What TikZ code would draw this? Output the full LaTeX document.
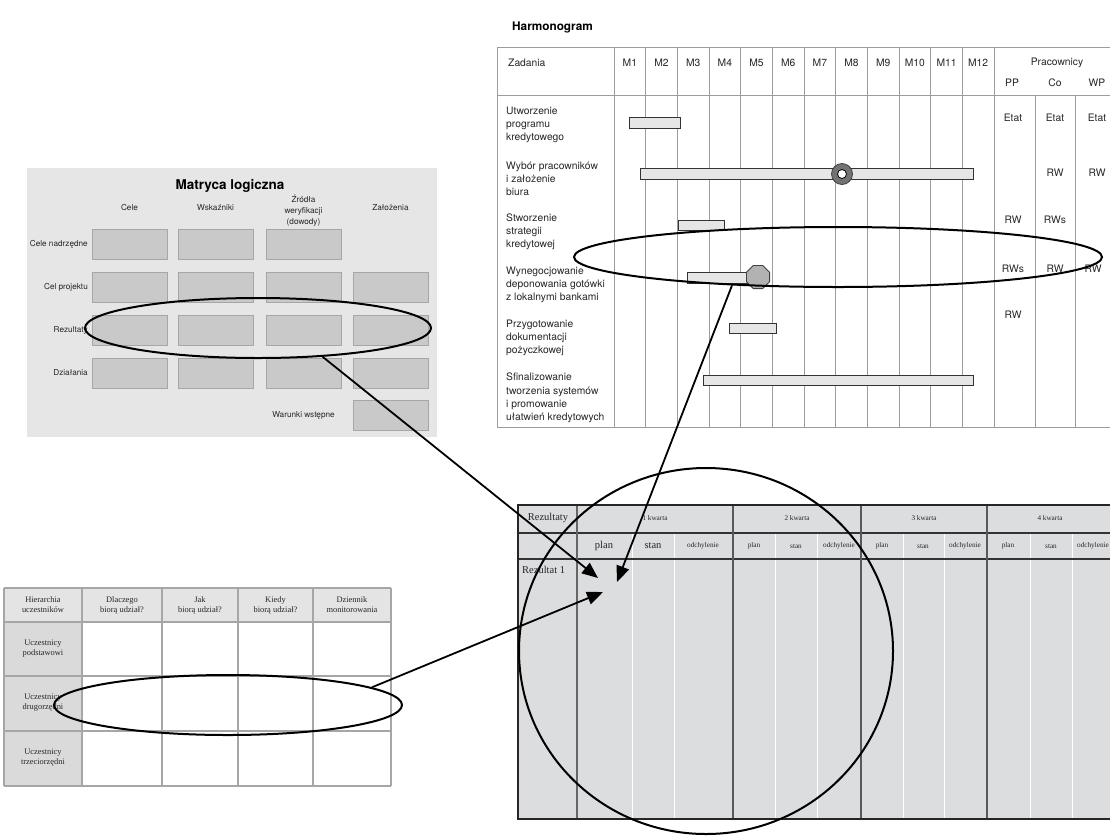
\documentclass[tikz,border=0pt]{standalone}
\usepackage{fontspec}
\setmainfont{Liberation Serif}
\setsansfont{TeX Gyre Heros}
\usetikzlibrary{shapes.geometric,arrows.meta}

\definecolor{panelgray}{HTML}{E6E6E6}
\definecolor{boxgray}{HTML}{C9C9C9}
\definecolor{boxedge}{HTML}{A6A6A6}
\definecolor{gridgray}{HTML}{9C9C9C}
\definecolor{bargray}{HTML}{E6E6E6}
\definecolor{tabfill}{HTML}{DCDDDF}
\definecolor{headfill}{HTML}{E4E4E4}
\definecolor{colfill}{HTML}{DADADA}

\begin{document}
\begin{tikzpicture}[x=1pt,y=-1pt,
  mtitle/.style={font=\sffamily\bfseries\fontsize{13.5}{15}\selectfont, inner sep=0},
  mtxt/.style={font=\sffamily\fontsize{8.2}{11}\selectfont, inner sep=0, text=black!85},
  mbox/.style={draw=boxedge, fill=boxgray, line width=0.8, minimum width=75, minimum height=30, inner sep=0},
  htitle/.style={font=\sffamily\bfseries\fontsize{11.8}{14}\selectfont, inner sep=0},
  htxt/.style={font=\sffamily\fontsize{10.3}{13.2}\selectfont, inner sep=0, text=black!85},
  gline/.style={draw=gridgray, line width=0.8},
  gbar/.style={draw=black!80, fill=bargray, line width=0.8},
  ttxt/.style={font=\fontsize{8.4}{10}\selectfont, inner sep=0, align=center, text=black!85},
  ugrid/.style={draw=black!35, line width=2.2},
  rtxt/.style={font=\fontsize{10.5}{12}\selectfont, inner sep=0, text=black!85},
  rsmall/.style={font=\fontsize{7.2}{9}\selectfont, inner sep=0, text=black!85},
  ring/.style={draw=black, line width=2, ellipse, inner sep=0},
  arr/.style={draw=black, line width=1.8, -{Triangle[length=16pt,width=13pt]}}
]
\useasboundingbox (0,0) rectangle (1110,836);

% ---------------- Matryca logiczna ----------------
\fill[panelgray] (27,168) rectangle (437,437);
\node[mtitle] (mtitle) at (230,186) {Matryca logiczna};
\node[mtxt] (mh1) at (129.5,208) {Cele};
\node[mtxt] (mh2) at (215.5,208) {Wskaźniki};
\node[mtxt, align=center] (mh3) at (303.5,211) {Źródła\\weryfikacji\\(dowody)};
\node[mtxt] (mh4) at (390.5,208) {Założenia};

\node[mtxt, anchor=east] (mr1) at (88,244) {Cele nadrzędne};
\node[mtxt, anchor=east] (mr2) at (88,287) {Cel projektu};
\node[mtxt, anchor=east] (mr3) at (88,330) {Rezultaty};
\node[mtxt, anchor=east] (mr4) at (88,373) {Działania};
\node[mtxt] (mr5) at (303.5,415) {Warunki wstępne};

\foreach \c/\x in {1/129.5,2/215.5,3/303.5}
  \node[mbox] (b1\c) at (\x,244) {};
\foreach \r/\y in {2/287,3/330,4/373}
  \foreach \c/\x in {1/129.5,2/215.5,3/303.5,4/390.5}
    \node[mbox] (b\r\c) at (\x,\y) {};
\node[mbox] (b54) at (390.5,415) {};

% ---------------- Harmonogram ----------------
\node[htitle, anchor=west] (htitle) at (512,27) {Harmonogram};

\draw[gline] (497,47) -- (1112,47);
\draw[gline] (497,95) -- (1112,95);
\draw[gline] (497,427) -- (1112,427);
\draw[gline] (497,47) -- (497,427);
\draw[gline] (614,47) -- (614,427);
\foreach \i in {1,...,12}
  \draw[gline] ({614+\i*31.667},47) -- ({614+\i*31.667},427);
\draw[gline] (1035,95) -- (1035,427);
\draw[gline] (1075,95) -- (1075,427);

\node[htxt, anchor=west] (zad) at (508,63) {Zadania};
\foreach \i in {1,...,12}
  \node[htxt] (m\i) at ({614+(\i-0.5)*31.667},63) {M\i};
\node[htxt] (prac) at (1057,63) {Pracownicy};
\node[htxt] (pp) at (1012,83) {PP};
\node[htxt] (co) at (1055,83) {Co};
\node[htxt] (wp) at (1097,83) {WP};

\node[htxt, anchor=west, align=left] (z1) at (506,125) {Utworzenie\\programu\\kredytowego};
\node[htxt, anchor=west, align=left] (z2) at (506,179) {Wybór pracowników\\i założenie\\biura};
\node[htxt, anchor=west, align=left] (z3) at (506,232) {Stworzenie\\strategii\\kredytowej};
\node[htxt, anchor=west, align=left] (z4) at (506,285) {Wynegocjowanie\\deponowania gotówki\\z lokalnymi bankami};
\node[htxt, anchor=west, align=left] (z5) at (506,338) {Przygotowanie\\dokumentacji\\pożyczkowej};
\node[htxt, anchor=west, align=left] (z6) at (506,398) {Sfinalizowanie\\tworzenia systemów\\i promowanie\\ułatwień kredytowych};

% task bars
\draw[gbar] (629,117) rectangle (680,128);
\draw[gbar] (640,168) rectangle (973,179);
\draw[gbar] (678,220) rectangle (724,230);
\draw[gbar] (687,272) rectangle (747,283);
\draw[gbar] (729,323) rectangle (776,333);
\draw[gbar] (703,375) rectangle (973,385);

% milestones
\node[circle, draw=black!75, fill=black!55, line width=0.8, minimum size=21pt, inner sep=0] (ms1) at (842,174) {};
\node[circle, draw=black, fill=white, line width=0.8, minimum size=9pt, inner sep=0] (ms1in) at (842,174) {};
\node[regular polygon, regular polygon sides=8, draw=black!75, fill=black!30, line width=0.9, minimum size=25pt, inner sep=0] (ms2) at (758,277) {};

% staff
\node[htxt] (e1) at (1013,118) {Etat};
\node[htxt] (e2) at (1055,118) {Etat};
\node[htxt] (e3) at (1097,118) {Etat};
\node[htxt] (r21) at (1055,173) {RW};
\node[htxt] (r22) at (1097,173) {RW};
\node[htxt] (r31) at (1013,220) {RW};
\node[htxt] (r32) at (1055,220) {RWs};
\node[htxt] (r41) at (1013,269) {RWs};
\node[htxt] (r42) at (1055,269) {RW};
\node[htxt] (r43) at (1093,269) {RW};
\node[htxt] (r51) at (1013,315) {RW};

% ---------------- Hierarchia uczestnikow ----------------
\fill[headfill] (4,588) rectangle (391,622);
\fill[colfill] (4,622) rectangle (82,786);
\fill[white] (82,622) rectangle (391,786);
\foreach \x in {4,82,162,238,313,391}
  \draw[ugrid] (\x,588) -- (\x,786);
\foreach \y in {588,622,676,731,786}
  \draw[ugrid] (4,\y) -- (391,\y);

\node[ttxt] (u01) at (43,605) {Hierarchia\\uczestników};
\node[ttxt] (u02) at (122,605) {Dlaczego\\biorą udział?};
\node[ttxt] (u03) at (200,605) {Jak\\biorą udział?};
\node[ttxt] (u04) at (275.5,605) {Kiedy\\biorą udział?};
\node[ttxt] (u05) at (352,605) {Dziennik\\monitorowania};
\node[ttxt] (u1) at (43,649) {Uczestnicy\\podstawowi};
\node[ttxt] (u2) at (43,703) {Uczestnicy\\drugorzędni};
\node[ttxt] (u3) at (43,758) {Uczestnicy\\trzeciorzędni};

% ---------------- Rezultaty ----------------
\fill[tabfill] (518,505) rectangle (1116,819);
\foreach \x in {632,674,775,817,903,944,1030,1072}
  \draw[white, line width=1] (\x,533) -- (\x,819);
\draw[black!80, line width=1.2] (518,533) -- (1116,533);
\draw[black!80, line width=1.2] (518,559) -- (1116,559);
\draw[black!60, line width=1.2] (577,505) -- (577,819);
\foreach \x in {733,861,987}
  \draw[black!65, line width=1.3] (\x,505) -- (\x,819);
\draw[black!85, line width=2.2] (1116,505) -- (518,505) -- (518,819) -- (1116,819);

\node[rtxt] (rh) at (548,518) {Rezultaty};
\node[rsmall] (q1) at (655,518) {1 kwarta};
\node[rsmall] (q2) at (797,518) {2 kwarta};
\node[rsmall] (q3) at (924,518) {3 kwarta};
\node[rsmall] (q4) at (1050,518) {4 kwarta};
\node[rtxt] (p1) at (604,546) {plan};
\node[rtxt] (s1) at (653,546) {stan};
\node[rsmall] (o1) at (703,546) {odchylenie};
\foreach \q/\a/\b/\c in {2/754/796/839,3/882/923/965,4/1008/1051/1093}{
  \node[rsmall] (p\q) at (\a,546) {plan};
  \node[rsmall] (s\q) at (\b,546) {stan};
  \node[rsmall] (o\q) at (\c,546) {odchylenie};
}
\node[rtxt, anchor=west] (r1) at (522,570) {Rezultat 1};

% ---------------- highlights and links ----------------
\node[ring, minimum width=346pt, minimum height=60pt] (mlE) at (258,328) {};
\node[ring, minimum width=528pt, minimum height=60pt] (hgE) at (838,257) {};
\node[ring, minimum width=348pt, minimum height=60pt] (ucE) at (228,705) {};
\node[ring, minimum width=374pt, minimum height=366pt] (rzC) at (706,651) {};

\coordinate (t1) at (598,578);
\coordinate (t2) at (617,582);
\coordinate (t3) at (603,592);

\draw[arr] (mlE.-24) -- (t1);
\draw[arr] (hgE.195) -- (t2);
\draw[arr] (ucE.7) -- (t3);
\end{tikzpicture}
\end{document}
